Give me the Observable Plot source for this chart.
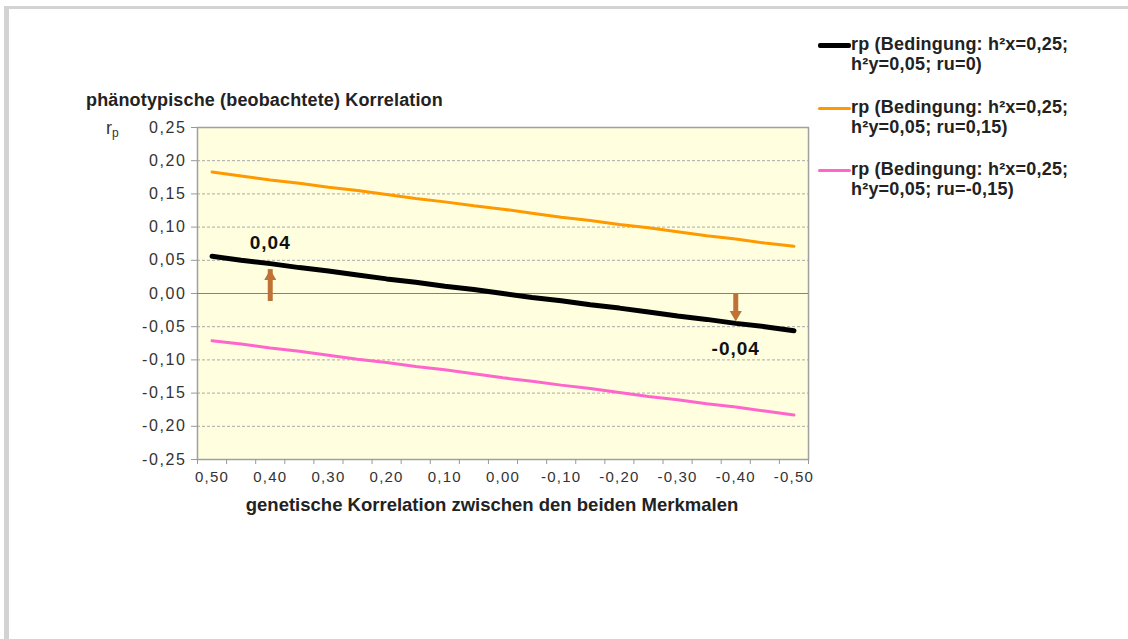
<!DOCTYPE html>
<html>
<head>
<meta charset="utf-8">
<script src="https://cdn.jsdelivr.net/npm/d3@7"></script>
<script src="https://cdn.jsdelivr.net/npm/@observablehq/plot@0.6"></script>
<style>
  html, body { margin: 0; padding: 0; background: #fff; }
  body { width: 1128px; height: 639px; position: relative; overflow: hidden; font-family: "Liberation Sans", Arial, sans-serif; }
  #frameL { position: absolute; left: 4px; top: 6px; width: 5px; height: 640px; background: #d3d3d3; }
  #frameT { position: absolute; left: 4px; top: 6px; width: 1130px; height: 3px; background: #d3d3d3; }
  #chart { position: absolute; left: 0; top: 0; }
  #title { position: absolute; left: 86px; top: 90px; font-weight: bold; font-size: 18px; letter-spacing: 0.15px; color: #222; white-space: nowrap; }
  #rp { position: absolute; left: 106px; top: 118px; font-size: 18px; color: #333; }
  #rp sub { font-size: 12px; vertical-align: -3px; }
  .leg { position: absolute; left: 818px; font-weight: bold; font-size: 18px; letter-spacing: 0.2px; color: #222; line-height: 20px; }
  .leg .sw { position: absolute; left: 0; top: 11px; width: 33px; }
  .leg .tx { position: absolute; left: 33px; top: 0; white-space: nowrap; }
</style>
</head>
<body>
<div id="frameT"></div>
<div id="frameL"></div>
<div id="chart"></div>
<div id="title">phänotypische (beobachtete) Korrelation</div>
<div id="rp">r<sub>p</sub></div>
<div id="legend"></div>
<script>
// genetic correlation (categories, shown reversed from 0,50 to -0,50)
const rg = [0.50, 0.45, 0.40, 0.35, 0.30, 0.25, 0.20, 0.15, 0.10, 0.05, 0.00,
            -0.05, -0.10, -0.15, -0.20, -0.25, -0.30, -0.35, -0.40, -0.45, -0.50];
// rp series
const rpRu0 = [0.056, 0.050, 0.045, 0.039, 0.034, 0.028, 0.022, 0.017, 0.011, 0.006, 0.000,
               -0.006, -0.011, -0.017, -0.022, -0.028, -0.034, -0.039, -0.045, -0.050, -0.056];
const rpRuP15 = [0.183, 0.177, 0.171, 0.166, 0.160, 0.155, 0.149, 0.143, 0.138, 0.132, 0.127,
                 0.121, 0.115, 0.110, 0.104, 0.099, 0.093, 0.087, 0.082, 0.076, 0.071];
const rpRuM15 = [-0.071, -0.076, -0.082, -0.087, -0.093, -0.099, -0.104, -0.110, -0.115, -0.121, -0.127,
                 -0.132, -0.138, -0.143, -0.149, -0.155, -0.160, -0.166, -0.171, -0.177, -0.183];
const seriesNames = [
  ["rp (Bedingung: h²x=0,25;", "h²y=0,05; ru=0)"],
  ["rp (Bedingung: h²x=0,25;", "h²y=0,05; ru=0,15)"],
  ["rp (Bedingung: h²x=0,25;", "h²y=0,05; ru=-0,15)"]
];
const seriesColors = ["#000000", "#FF9900", "#FF66CC"];
const seriesWidths = [5, 3, 3];
const yTicks = [0.25, 0.20, 0.15, 0.10, 0.05, 0.00, -0.05, -0.10, -0.15, -0.20, -0.25];
const xLabelTicks = [0.50, 0.40, 0.30, 0.20, 0.10, 0.00, -0.10, -0.20, -0.30, -0.40, -0.50];
const xBoundaryTicks = [0.525, 0.475, 0.425, 0.375, 0.325, 0.275, 0.225, 0.175, 0.125, 0.075, 0.025,
                        -0.025, -0.075, -0.125, -0.175, -0.225, -0.275, -0.325, -0.375, -0.425, -0.475, -0.525];
// annotations: difference arrows (x category, arrow tip value, label)
const annX = [0.40, -0.40];
const annTip = [0.036, -0.042];
const annText = ["0,04", "-0,04"];

const fmt = v => d3.format(".2f")(v).replace("−", "-").replace(".", ",");

const allSeries = [rpRu0, rpRuP15, rpRuM15];
const rows = allSeries.flatMap((vals, s) => vals.map((v, i) => ({x: rg[i], y: v, s})));
const ann = annX.map((x, i) => ({x, v: annTip[i], t: annText[i]}));
const annUp = ann.filter(d => d.v > 0);
const annDown = ann.filter(d => d.v < 0);
const arrowColor = "#BF7236";

const chart = Plot.plot({
  width: 1128,
  height: 639,
  marginLeft: 197,
  marginRight: 320,
  marginTop: 127,
  marginBottom: 180,
  style: {fontFamily: '"Liberation Sans", Arial, sans-serif', fontSize: "15px", color: "#333", background: "transparent"},
  x: {domain: [0.525, -0.525], label: null},
  y: {domain: [-0.25, 0.25], label: null},
  marks: [
    Plot.frame({fill: "#FFFFDF", stroke: null}),
    Plot.ruleY(yTicks.filter(d => d !== 0), {stroke: "#a8a8a8", strokeDasharray: "3,2", strokeWidth: 1}),
    Plot.frame({stroke: "#a0a0a0", strokeWidth: 1.5}),
    Plot.ruleY([0], {stroke: "#E05A5A", strokeWidth: 1.2}),
    Plot.axisY({ticks: yTicks, tickFormat: fmt, tickSize: 6, tickPadding: 5, stroke: "#999", fontSize: 16, fill: "#333"}),
    Plot.axisX({ticks: xBoundaryTicks, tickFormat: () => "", tickSize: 5, stroke: "#999"}),
    Plot.axisX({ticks: xLabelTicks, tickFormat: fmt, tickSize: 0, tickPadding: 12, fontSize: 15, fill: "#333"}),
    Plot.text(["genetische Korrelation zwischen den beiden Merkmalen"], {frameAnchor: "bottom", lineAnchor: "middle", dy: 46, dx: -11, fontWeight: "bold", fontSize: 18.5, fill: "#222"}),
    Plot.line(rows.filter(d => d.s === 1), {x: "x", y: "y", stroke: seriesColors[1], strokeWidth: seriesWidths[1]}),
    Plot.line(rows.filter(d => d.s === 2), {x: "x", y: "y", stroke: seriesColors[2], strokeWidth: seriesWidths[2]}),
    Plot.line(rows.filter(d => d.s === 0), {x: "x", y: "y", stroke: seriesColors[0], strokeWidth: seriesWidths[0]}),
    // arrows: shaft + head
    Plot.ruleX(annUp, {x: "x", y1: 0, y2: "v", insetTop: 8, stroke: arrowColor, strokeWidth: 5}),
    Plot.ruleX(annDown, {x: "x", y1: 0, y2: "v", insetBottom: 8, stroke: arrowColor, strokeWidth: 5}),
    Plot.dot(annUp, {x: "x", y: "v", dy: 7, symbol: "triangle", r: 4.5, fill: arrowColor, stroke: null}),
    Plot.dot(annDown, {x: "x", y: "v", dy: -7, symbol: "triangle", r: 4.5, rotate: 180, fill: arrowColor, stroke: null}),
    Plot.text(annUp, {x: "x", y: "v", text: "t", dy: -27, fontWeight: "bold", fontSize: 19, fill: "#111"}),
    Plot.text(annDown, {x: "x", y: "v", text: "t", dy: 28, fontWeight: "bold", fontSize: 19, fill: "#111"})
  ]
});
d3.select(chart).selectAll("g[aria-label='y-axis tick label'] text").style("letter-spacing", "1.6px");
d3.select(chart).selectAll("g[aria-label='x-axis tick label'] text").style("letter-spacing", "1.2px");
d3.select(chart).selectAll("g[aria-label='text'] text").filter(function() { return /^-?0,04$/.test(this.textContent); }).style("letter-spacing", "1px");
document.getElementById("chart").appendChild(chart);

// legend
const legendTops = [34, 97, 159];
const legend = document.getElementById("legend");
seriesNames.forEach((lines, i) => {
  const d = document.createElement("div");
  d.className = "leg";
  d.style.top = legendTops[i] + "px";
  const sw = document.createElement("div");
  sw.className = "sw";
  sw.style.height = seriesWidths[i] + "px";
  sw.style.marginTop = (-seriesWidths[i] / 2) + "px";
  sw.style.background = seriesColors[i];
  sw.style.borderRadius = "2px";
  const tx = document.createElement("div");
  tx.className = "tx";
  tx.innerHTML = lines.join("<br>");
  d.appendChild(sw); d.appendChild(tx);
  legend.appendChild(d);
});
</script>
</body>
</html>
